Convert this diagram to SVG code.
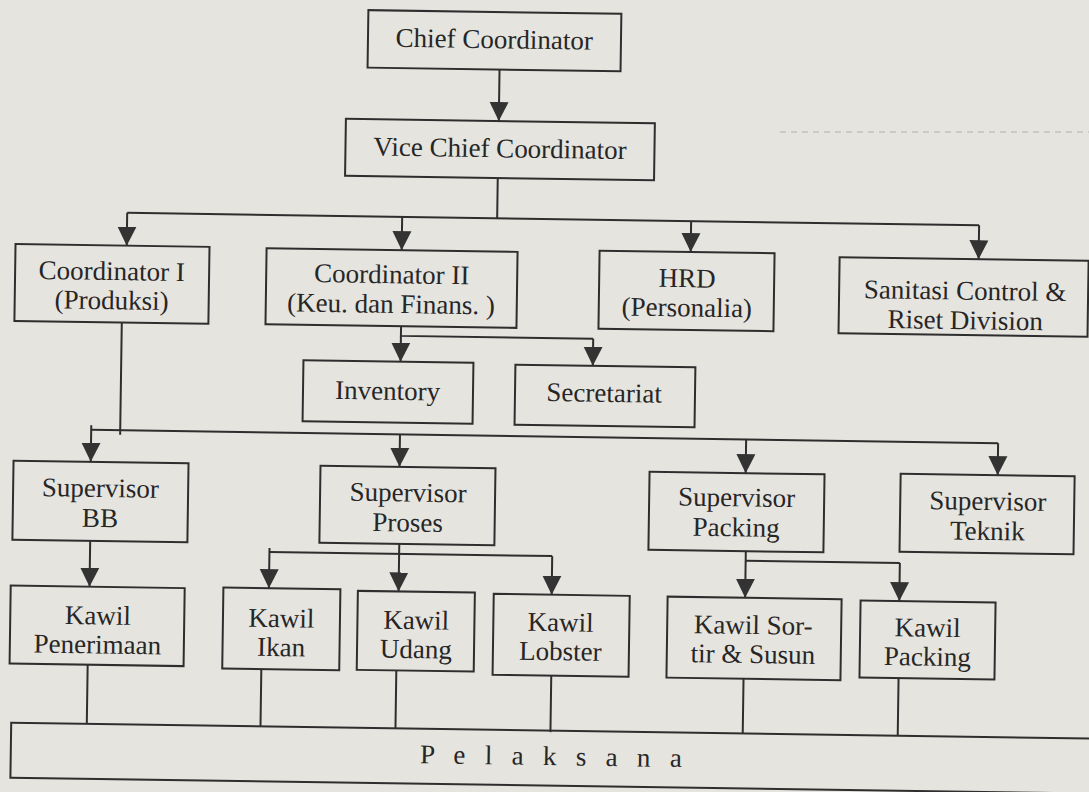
<svg xmlns="http://www.w3.org/2000/svg" width="1089" height="792" viewBox="0 0 1089 792">
<defs>
<style>
.box{fill:none;stroke:#2e2e2e;stroke-width:2}
.c{fill:none;stroke:#2e2e2e;stroke-width:2}
.t{font-family:"Liberation Serif","Times New Roman",serif;font-size:27px;fill:#262626;text-anchor:middle}
</style>
<marker id="ah" markerUnits="userSpaceOnUse" markerWidth="20" markerHeight="20" viewBox="0 0 20 20" refX="19" refY="10" orient="auto">
<path d="M0,0.5 L19,10 L0,19.5 z" fill="#333"/>
</marker>
</defs>
<rect x="0" y="0" width="1089" height="792" fill="#e6e4df"/>
<path d="M780,132 H1089" stroke="#b0b0b0" stroke-width="1" stroke-dasharray="6 5" fill="none"/>
<g transform="rotate(0.84 545 400)">
<g id="connectors">
<path class="c" d="M494.7,70.2 V121.7" marker-end="url(#ah)"/>
<path class="c" d="M494.5,178.7 V219 M124.5,219 H976.5"/>
<path class="c" d="M124.5,219 V251.8" marker-end="url(#ah)"/>
<path class="c" d="M399.5,219 V252.3" marker-end="url(#ah)"/>
<path class="c" d="M688.5,219 V249.9" marker-end="url(#ah)"/>
<path class="c" d="M976.5,219 V252.9" marker-end="url(#ah)"/>
<path class="c" d="M400,328.3 V338 H592.3"/>
<path class="c" d="M400,338 V363.8" marker-end="url(#ah)"/>
<path class="c" d="M592.3,338 V365.1" marker-end="url(#ah)"/>
<path class="c" d="M120.7,328.8 V441 M91.7,436.5 H998.7"/>
<path class="c" d="M91.7,432 V468.5" marker-end="url(#ah)"/>
<path class="c" d="M400.5,436.5 V469" marker-end="url(#ah)"/>
<path class="c" d="M746.7,436.5 V470.2" marker-end="url(#ah)"/>
<path class="c" d="M998.7,436.5 V468.5" marker-end="url(#ah)"/>
<path class="c" d="M92.3,547.5 V593.4" marker-end="url(#ah)"/>
<path class="c" d="M401.4,546 V593.6" marker-end="url(#ah)"/>
<path class="c" d="M271.7,556 H554.5"/>
<path class="c" d="M271.7,552 V592.2" marker-end="url(#ah)"/>
<path class="c" d="M554.5,556 V594.6" marker-end="url(#ah)"/>
<path class="c" d="M748,548.2 V594.8" marker-end="url(#ah)"/>
<path class="c" d="M748,557.8 H902.2"/>
<path class="c" d="M902.2,557.8 V595.9" marker-end="url(#ah)"/>
<path class="c" d="M91.6,671.4 V730.5 M265.3,673.2 V730.5 M400.3,672.6 V730.5 M555.3,675.6 V732 M747.6,675.8 V730.5 M902.6,672.9 V730.5"/>
</g>
<g id="chief"><rect class="box" x="362.7" y="12.75" width="253" height="57.5"/><text class="t" x="489" y="49">Chief Coordinator</text></g>
<g id="vice"><rect class="box" x="341.8" y="121.7" width="309" height="57"/><text class="t" x="496.4" y="158">Vice Chief Coordinator</text></g>
<g id="coord1"><rect class="box" x="13.3" y="251.8" width="194" height="77"/><text class="t" x="110" y="286.4">Coordinator I</text><text class="t" x="110.3" y="315.6">(Produksi)</text></g>
<g id="coord2"><rect class="box" x="264.4" y="252.3" width="251" height="76"/><text class="t" x="390" y="285.5">Coordinator II</text><text class="t" x="389.6" y="315.2">(Keu. dan Finans. )</text></g>
<g id="hrd"><rect class="box" x="597.4" y="249.9" width="175" height="78"/><text class="t" x="685.3" y="285.2">HRD</text><text class="t" x="685.4" y="314.4">(Personalia)</text></g>
<g id="sanitasi"><rect class="box" x="837.5" y="252.9" width="249" height="76"/><text class="t" x="963.5" y="293.5">Sanitasi Control &amp;</text><text class="t" x="964" y="323">Riset Division</text></g>
<g id="inventory"><rect class="box" x="302.9" y="363.8" width="170" height="61"/><text class="t" x="387.6" y="402">Inventory</text></g>
<g id="secretariat"><rect class="box" x="514.9" y="365.1" width="180" height="60"/><text class="t" x="604" y="401">Secretariat</text></g>
<g id="supBB"><rect class="box" x="14.5" y="468.5" width="175" height="79"/><text class="t" x="101.8" y="503.5">Supervisor</text><text class="t" x="101.8" y="533.5">BB</text></g>
<g id="supProses"><rect class="box" x="321.5" y="469" width="175" height="77"/><text class="t" x="409.5" y="503.5">Supervisor</text><text class="t" x="409.5" y="533.5">Proses</text></g>
<g id="supPacking"><rect class="box" x="650.6" y="470.2" width="175" height="78"/><text class="t" x="738" y="503.5">Supervisor</text><text class="t" x="738" y="533.5">Packing</text></g>
<g id="supTeknik"><rect class="box" x="901.7" y="468.5" width="174" height="78"/><text class="t" x="989.3" y="503.5">Supervisor</text><text class="t" x="989.3" y="533.5">Teknik</text></g>
<g id="kawilPenerimaan"><rect class="box" x="13.5" y="593.4" width="174" height="78"/><text class="t" x="101" y="631">Kawil</text><text class="t" x="101" y="660">Penerimaan</text></g>
<g id="kawilIkan"><rect class="box" x="226.2" y="592.2" width="117" height="81"/><text class="t" x="284.7" y="631">Kawil</text><text class="t" x="284.7" y="660">Ikan</text></g>
<g id="kawilUdang"><rect class="box" x="360.7" y="593.6" width="117" height="79"/><text class="t" x="419.5" y="631">Kawil</text><text class="t" x="419.5" y="660">Udang</text></g>
<g id="kawilLobster"><rect class="box" x="496.6" y="594.6" width="136" height="81"/><text class="t" x="564" y="631">Kawil</text><text class="t" x="564" y="660">Lobster</text></g>
<g id="kawilSortir"><rect class="box" x="670.5" y="594.8" width="174" height="81"/><text class="t" x="756.5" y="631">Kawil Sor-</text><text class="t" x="756.5" y="660">tir &amp; Susun</text></g>
<g id="kawilPacking"><rect class="box" x="863.5" y="595.9" width="135" height="77"/><text class="t" x="931" y="631">Kawil</text><text class="t" x="931" y="660">Packing</text></g>
<g id="pelaksana"><rect class="box" x="16" y="730.5" width="1090" height="55"/><text class="t" x="425.3" y="765" style="text-anchor:start;letter-spacing:6.3px">P e l a k s a n a</text></g>
</g>
</svg>
